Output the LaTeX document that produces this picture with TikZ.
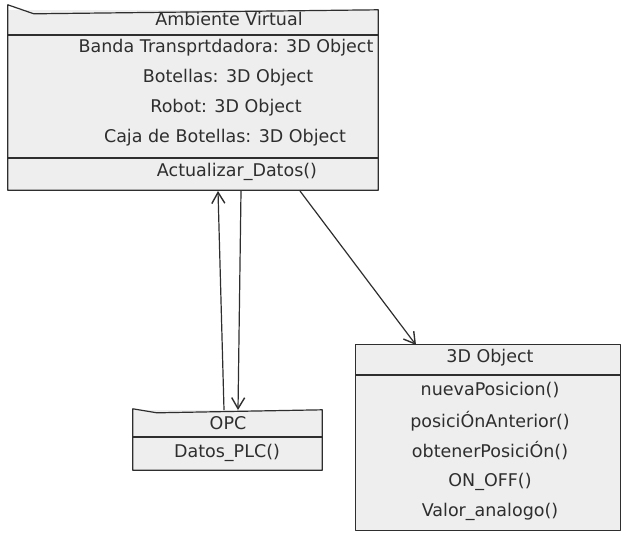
\documentclass[tikz,border=0pt]{standalone}
\usepackage{fontspec}
\setmainfont{DejaVu Sans}
\usetikzlibrary{arrows.meta,calc}
\definecolor{ink}{HTML}{2E2E2E}
\definecolor{boxfill}{HTML}{EEEEEE}
\tikzset{
  umlbox/.style={draw=none, fill=boxfill, rectangle, inner sep=0pt},
  outline/.style={draw=ink, line width=1.2pt, line join=round},
  txt/.style={inner sep=0pt, text=ink, font=\fontsize{17.5}{20}\selectfont},
  sep/.style={draw=ink, line width=1.2pt},
  conn/.style={draw=ink, line width=1.2pt, -{Straight Barb[length=11pt,width=13pt,line width=1.4pt]}}
}
\begin{document}
\begin{tikzpicture}[x=1pt,y=-1pt]
\useasboundingbox (0,0) rectangle (623,533);
% Ambiente Virtual
\node[umlbox, minimum width=370pt, minimum height=180pt] (av) at (193,100) {};
\draw[outline] ($(av.north west)+(0,-5)$) -- ($(av.north west)+(26,4)$) -- (av.north east) -- (av.south east) -- (av.south west) -- cycle;
\draw[sep] (8,35) -- (378,35);
\draw[sep] (8,158) -- (378,158);
\node[txt] (avt) at (229,19) {Ambiente Virtual};
\node[txt] (av1) at (226,48) {Banda Transprtdadora: 3D Object};
\node[txt] (av2) at (228,78) {Botellas: 3D Object};
\node[txt] (av3) at (226,108) {Robot: 3D Object};
\node[txt] (av4) at (225,138) {Caja de Botellas: 3D Object};
\node[txt] (avm) at (237,172) {Actualizar\_Datos()};
% OPC
\node[umlbox, minimum width=189pt, minimum height=60pt] (opc) at (227.5,440) {};
\draw[outline] ($(opc.north west)+(0,-1)$) -- ($(opc.north west)+(24,3)$) -- (opc.north east) -- (opc.south east) -- (opc.south west) -- cycle;
\draw[sep] (133,437) -- (322,437);
\node[txt] (opct) at (228,423) {OPC};
\node[txt] (opcm) at (227,453) {Datos\_PLC()};
% 3D Object
\node[umlbox, minimum width=265pt, minimum height=185pt] (obj) at (488,437.5) {};
\draw[outline] (obj.north west) -- (obj.north east) -- (obj.south east) -- (obj.south west) -- cycle;
\draw[sep] (355.5,375) -- (620.5,375);
\node[txt] (objt) at (490,358) {3D Object};
\node[txt] (o1) at (490,390) {nuevaPosicion()};
\node[txt] (o2) at (490,421) {posiciÓnAnterior()};
\node[txt] (o3) at (490,451) {obtenerPosiciÓn()};
\node[txt] (o4) at (490,482) {ON\_OFF()};
\node[txt] (o5) at (490,512) {Valor\_analogo()};
% connectors
\coordinate (upS) at (224,410);
\coordinate (upE) at (218,191);
\coordinate (dnS) at (241,191);
\coordinate (dnE) at (238,410);
\coordinate (dgS) at (300,191);
\coordinate (dgE) at (416,345);
\draw[conn] (upS) -- (upE);
\draw[conn] (dnS) -- (dnE);
\draw[conn] (dgS) -- (dgE);
\end{tikzpicture}
\end{document}
